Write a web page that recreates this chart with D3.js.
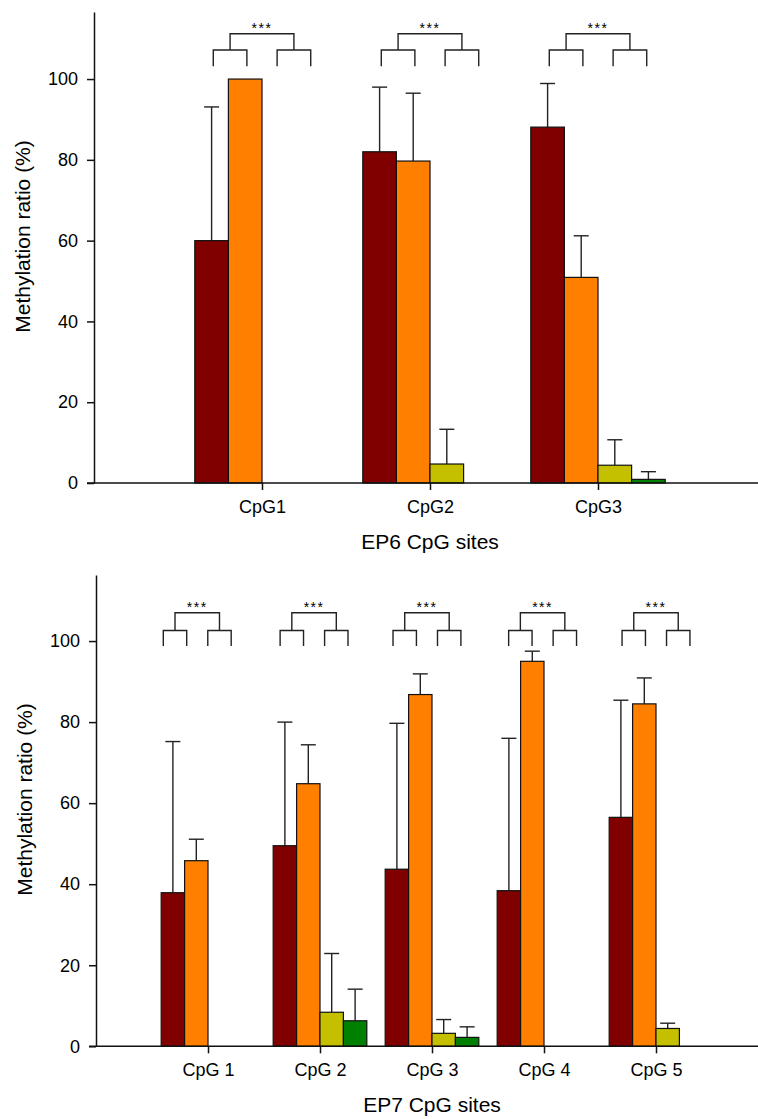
<html>
  <head>
    <meta charset="utf-8">
    <script src="https://d3js.org/d3.v7.min.js"></script>
    <style type="text/css">
      body {
        margin: 0;
        padding: 0;
        background: #fff;
        font-family: 'Liberation Sans', Arial, sans-serif;
      }
      svg text {
        fill: #000;
      }
    </style>
  </head>
  <body>
    <svg id="chart" width="758" height="1119"></svg>
    <script>
      /* EP6 data (mean and SD, %) */
      const ep6Sites = ["CpG1", "CpG2", "CpG3"]
      const ep6Group1 = [60.0, 82.0, 88.1]
      const ep6Group2 = [100, 79.7, 50.9]
      const ep6Group3 = [0, 4.7, 4.4]
      const ep6Group4 = [0, 0, 0.9]
      const ep6Sd1 = [33.1, 16.0, 10.8]
      const ep6Sd2 = [0, 16.8, 10.3]
      const ep6Sd3 = [0, 8.6, 6.3]
      const ep6Sd4 = [0, 0, 1.9]
      const ep6Signif = ["***", "***", "***"]

      /* EP7 data */
      const ep7Sites = ["CpG 1", "CpG 2", "CpG 3", "CpG 4", "CpG 5"]
      const ep7Group1 = [37.9, 49.5, 43.7, 38.4, 56.5]
      const ep7Group2 = [45.8, 64.8, 86.8, 95.0, 84.5]
      const ep7Group3 = [0, 8.4, 3.2, 0, 4.4]
      const ep7Group4 = [0, 6.3, 2.2, 0, 0]
      const ep7Sd1 = [37.3, 30.5, 36.0, 37.6, 28.9]
      const ep7Sd2 = [5.3, 9.6, 5.1, 2.5, 6.4]
      const ep7Sd3 = [0, 14.5, 3.4, 0, 1.3]
      const ep7Sd4 = [0, 7.8, 2.6, 0, 0]
      const ep7Signif = ["***", "***", "***", "***", "***"]

      const yTicks = [0, 20, 40, 60, 80, 100]
      const groups = ["g1", "g2", "g3", "g4"]
      const colors = ["#800000", "#ff8000", "#c4c000", "#008000"]

      const svg = d3.select("#chart")

      const drawPanel = (opt) => {
        const g = svg.append("g")

        const x = d3.scalePoint()
          .domain(opt.sites)
          .range([opt.left, opt.left + 672])
          .padding(1)
        const bw = x.step() * opt.barFrac
        const inner = d3.scaleBand()
          .domain(groups)
          .range([-2 * bw, 2 * bw])

        const y = d3.scaleLinear()
          .domain([0, opt.yMax])
          .range([opt.bottom, opt.top])

        const rows = []
        opt.sites.forEach((s, i) => {
          groups.forEach((k, j) => {
            rows.push({ site: s, i, j, v: opt.means[j][i], sd: opt.sds[j][i] })
          })
        })

        // error bars (upper only)
        const err = rows.filter(d => d.sd > 0)
        g.selectAll("line.err")
          .data(err)
          .join("line")
          .attr("class", "err")
          .attr("x1", d => x(d.site) + inner(groups[d.j]) + bw / 2)
          .attr("x2", d => x(d.site) + inner(groups[d.j]) + bw / 2)
          .attr("y1", d => y(d.v))
          .attr("y2", d => y(d.v + d.sd))
          .attr("stroke", "#222")
          .attr("stroke-width", 1.4)
        g.selectAll("line.cap")
          .data(err)
          .join("line")
          .attr("class", "cap")
          .attr("x1", d => x(d.site) + inner(groups[d.j]) + bw / 2 - 7.5)
          .attr("x2", d => x(d.site) + inner(groups[d.j]) + bw / 2 + 7.5)
          .attr("y1", d => y(d.v + d.sd))
          .attr("y2", d => y(d.v + d.sd))
          .attr("stroke", "#222")
          .attr("stroke-width", 1.4)

        // bars
        g.selectAll("rect.bar")
          .data(rows.filter(d => d.v > 0))
          .join("rect")
          .attr("class", "bar")
          .attr("x", d => x(d.site) + inner(groups[d.j]))
          .attr("width", bw)
          .attr("y", d => y(d.v))
          .attr("height", d => y(0) - y(d.v))
          .attr("fill", d => colors[d.j])
          .attr("stroke", "#111")
          .attr("stroke-width", 1.2)

        // significance brackets
        const lv = opt.levels
        opt.sites.forEach((s, i) => {
          const c = x(s) + opt.shift[i] * x.step()
          const legs = [-1.45, -0.45, 0.45, 1.45].map(f => c + f * bw)
          const p = d3.path()
          // left pair
          p.moveTo(legs[0], y(lv[0])); p.lineTo(legs[0], y(lv[1])); p.lineTo(legs[1], y(lv[1])); p.lineTo(legs[1], y(lv[0]))
          // right pair
          p.moveTo(legs[2], y(lv[0])); p.lineTo(legs[2], y(lv[1])); p.lineTo(legs[3], y(lv[1])); p.lineTo(legs[3], y(lv[0]))
          // joining bracket
          const m1 = (legs[0] + legs[1]) / 2
          const m2 = (legs[2] + legs[3]) / 2
          p.moveTo(m1, y(lv[1])); p.lineTo(m1, y(lv[2])); p.lineTo(m2, y(lv[2])); p.lineTo(m2, y(lv[1]))
          g.append("path")
            .attr("d", p.toString())
            .attr("fill", "none")
            .attr("stroke", "#222")
            .attr("stroke-width", 1.4)
          g.append("text")
            .attr("x", (m1 + m2) / 2)
            .attr("y", y(lv[2]) - 0.5)
            .attr("text-anchor", "middle")
            .attr("font-size", 14)
            .attr("letter-spacing", 1.5)
            .text(opt.signif[i])
        })

        // y axis
        const ya = g.append("g")
          .attr("transform", `translate(${opt.left},0)`)
          .call(d3.axisLeft(y).tickValues(yTicks).tickSize(7).tickSizeOuter(0).tickPadding(9))
        ya.select(".domain").attr("stroke", "#111").attr("stroke-width", 1.5)
        ya.selectAll(".tick line").attr("stroke", "#111").attr("stroke-width", 1.5)
        ya.selectAll(".tick text")
          .attr("font-size", 18)
          .attr("font-family", "'Liberation Sans', Arial, sans-serif")

        // x axis
        const xa = g.append("g")
          .attr("transform", `translate(0,${opt.bottom})`)
          .call(d3.axisBottom(x).tickSize(7).tickPadding(10))
        xa.select(".domain").remove()
        xa.append("line")
          .attr("x1", opt.left - 7)
          .attr("x2", 758)
          .attr("stroke", "#111")
          .attr("stroke-width", 1.5)
        xa.selectAll(".tick line").attr("stroke", "#111").attr("stroke-width", 1.5)
        xa.selectAll(".tick text")
          .attr("font-size", 18)
          .attr("font-family", "'Liberation Sans', Arial, sans-serif")

        // axis titles
        g.append("text")
          .attr("transform", `translate(${opt.left - 64},${opt.top + 224.5}) rotate(-90)`)
          .attr("text-anchor", "middle")
          .attr("font-size", 21)
          .text("Methylation ratio (%)")
        g.append("text")
          .attr("x", opt.left + 336)
          .attr("y", opt.bottom + 66)
          .attr("text-anchor", "middle")
          .attr("font-size", 21)
          .text(opt.xTitle)
      }

      drawPanel({
        sites: ep6Sites,
        means: [ep6Group1, ep6Group2, ep6Group3, ep6Group4],
        sds: [ep6Sd1, ep6Sd2, ep6Sd3, ep6Sd4],
        signif: ep6Signif,
        left: 94, top: 12, bottom: 483, yMax: 116.6,
        barFrac: 0.2,
        levels: [103.2, 107.2, 111.2],
        shift: [0, 0, 0],
        xTitle: "EP6 CpG sites"
      })

      drawPanel({
        sites: ep7Sites,
        means: [ep7Group1, ep7Group2, ep7Group3, ep7Group4],
        sds: [ep7Sd1, ep7Sd2, ep7Sd3, ep7Sd4],
        signif: ep7Signif,
        left: 96, top: 575, bottom: 1046.3, yMax: 116.3,
        barFrac: 0.209,
        levels: [98.8, 102.6, 107.0],
        shift: [-0.096, -0.053, -0.045, -0.0125, 0],
        xTitle: "EP7 CpG sites"
      })
    </script>
  </body>
</html>
